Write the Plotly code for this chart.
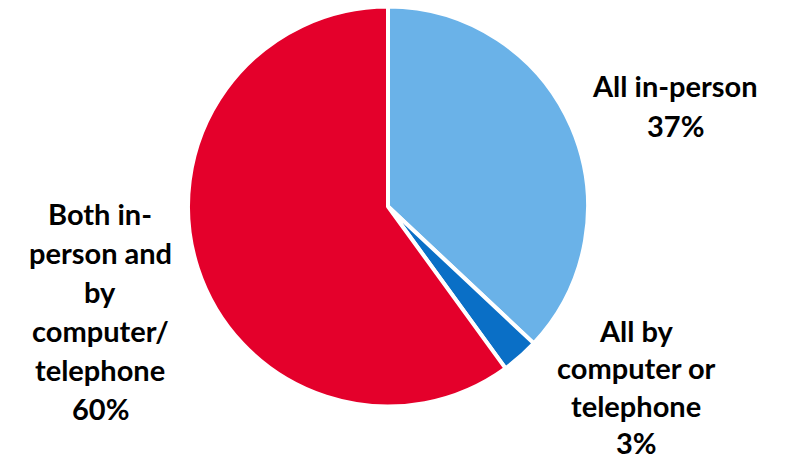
import plotly.graph_objects as go

# Survey shares by delivery mode
categories = ["All in-person", "All by computer or telephone", "Both in-person and by computer/telephone"]
shares = [37, 3, 60]
colors = ["#6AB2E8", "#0A6FC6", "#E4002B"]

# Label lines as displayed beside each slice
label_lines = [
    ["All in-person", "37%"],
    ["All by", "computer or", "telephone", "3%"],
    ["Both in-", "person and", "by", "computer/", "telephone", "60%"],
]
# Anchor (x px, y px of first line, px between lines) for each label block
label_anchor = [(675, 86, 39), (636, 330, 37.5), (100, 213, 39)]

W, H = 789, 463

fig = go.Figure(
    go.Pie(
        labels=categories,
        values=shares,
        sort=False,
        direction="clockwise",
        rotation=0,
        marker=dict(colors=colors, line=dict(color="white", width=4)),
        textinfo="none",
        hoverinfo="label+percent",
        showlegend=False,
        domain=dict(x=[188 / W, 588 / W], y=[(H - 407) / H, (H - 6) / H]),
    )
)

annotations = []
for lines, (ax, ay, step) in zip(label_lines, label_anchor):
    for i, line in enumerate(lines):
        annotations.append(
            dict(
                text=f"<b>{line}</b>",
                x=ax / W,
                y=(H - (ay + i * step)) / H,
                xref="paper",
                yref="paper",
                xanchor="center",
                yanchor="middle",
                showarrow=False,
                font=dict(family="Lato", size=29, color="black"),
            )
        )

fig.update_layout(
    width=W,
    height=H,
    margin=dict(l=0, r=0, t=0, b=0),
    paper_bgcolor="white",
    plot_bgcolor="white",
    annotations=annotations,
)

fig.write_html("out.html")
